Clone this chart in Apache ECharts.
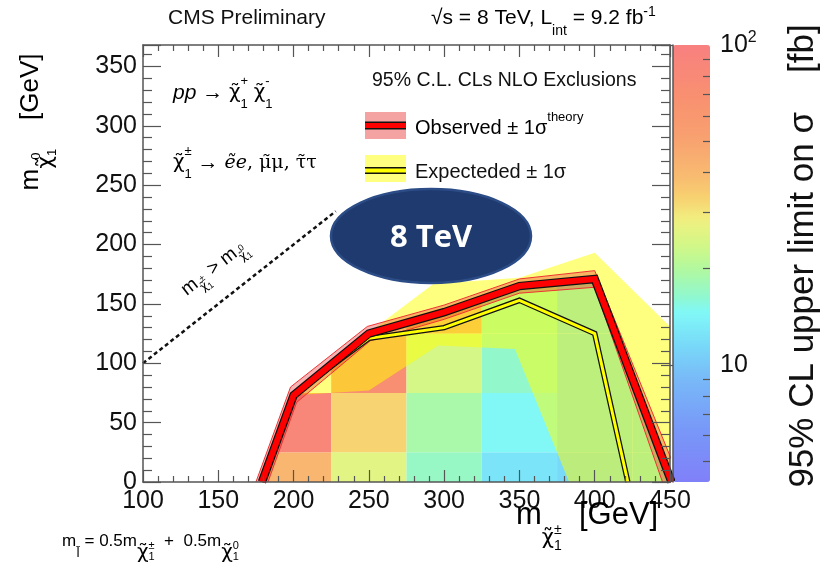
<!DOCTYPE html>
<html>
<head>
<meta charset="utf-8">
<script src="https://cdn.jsdelivr.net/npm/echarts@6/dist/echarts.min.js"></script>
<style>html,body{margin:0;padding:0;background:#fff;}#c{width:825px;height:568px;}</style>
</head>
<body>
<div id="c"></div>
<script>
// ---------------- data ----------------
const xTicks = [100, 150, 200, 250, 300, 350, 400, 450];
const yTicks = [0, 50, 100, 150, 200, 250, 300, 350];
const cbMajor = [10, 100];
const cbMinor = [5, 6, 7, 8, 9, 20, 30, 40, 50, 60, 70, 80, 90];
const cbMin = 4.3, cbMax = 100;

// grid cells (bin centres) and 95% CL upper limit [fb]
const cellX = [200, 200, 250, 250, 250, 300, 300, 300, 300, 350, 350, 350, 350, 400, 400, 400, 400, 450, 450, 450];
const cellY = [0, 50, 0, 50, 100, 0, 50, 100, 150, 0, 50, 100, 150, 0, 50, 100, 150, 0, 50, 100];
const cellLimit = [41, 85, 26, 33, 72, 17, 19, 24, 55, 12.5, 14.5, 16.5, 17, 11.5, 12, 12, 12, 12, 12, 12];

// observed contour and its +-1 sigma theory band
const obsX = [179, 200, 250, 300, 350, 400, 451];
const obsY = [0, 73, 125, 143, 165, 171, 0];
const obsUpX = [175, 198, 249, 300, 350, 400, 457];
const obsUpY = [0, 80, 131, 149, 171, 178, 0];
const obsDnX = [183, 202, 251, 300, 350, 400, 445];
const obsDnY = [0, 67, 119, 137, 159, 164, 0];
// expected contour and its +-1 sigma band
const expX = [179, 200, 250, 300, 350, 400, 422];
const expY = [0, 74, 121, 130, 153, 125, 0];
const expUpX = [200, 250, 293, 350, 400, 450, 450];
const expUpY = [75, 126, 167, 172, 193, 131, 0];
const expDnX = [200, 250, 296, 347, 383];
const expDnY = [73, 77, 115, 112, 0];
// kinematic boundary m(chi+-) = m(chi0)
const diagX = [100, 228];
const diagY = [100, 228];

// colour bar palette stops (fraction along bar, colour)
const cbStops = [[0,'#8080f8'],[0.12,'#7898f8'],[0.233,'#78b8f8'],[0.31,'#78d8f8'],[0.387,'#80f8f8'],[0.423,'#90f8d0'],[0.485,'#b0f8a0'],[0.538,'#d0f888'],[0.6,'#f0f080'],[0.652,'#f8d070'],[0.707,'#f8b870'],[0.789,'#f8a070'],[0.88,'#f89070'],[1,'#f88080']];

// ---------------- helpers ----------------
function hex2rgb(h){return [parseInt(h.substr(1,2),16),parseInt(h.substr(3,2),16),parseInt(h.substr(5,2),16)];}
function sampleStops(n){
  const out=[];
  for(let i=0;i<n;i++){
    const f=i/(n-1);
    let k=0; while(k<cbStops.length-2 && cbStops[k+1][0]<f) k++;
    const a=cbStops[k], b=cbStops[k+1];
    const t=(f-a[0])/(b[0]-a[0]);
    const ca=hex2rgb(a[1]), cb=hex2rgb(b[1]);
    out.push('rgb('+ca.map((v,j)=>Math.round(v+(cb[j]-v)*t)).join(',')+')');
  }
  return out;
}
const L = Math.log10;
const cellData = cellX.map((x,i)=>[x, cellY[i], L(cellLimit[i])]);
function pairs(xs, ys){return xs.map((x,i)=>[x, ys[i]]);}

function polySeries(upX, upY, dnX, dnY, style, z){
  const xs = upX.concat(dnX.slice().reverse());
  const ys = upY.concat(dnY.slice().reverse());
  return {
    type:'custom', coordinateSystem:'cartesian2d', xAxisIndex:0, yAxisIndex:0,
    data: pairs(xs, ys), z:z, silent:true, clip:true,
    renderItem: function(params, api){
      if(params.dataIndex!==0) return;
      const pts = xs.map((x,i)=>api.coord([x, ys[i]]));
      return {type:'polygon', shape:{points:pts}, style:style};
    }
  };
}
function lineSeries(xs, ys, color, width, z, type){
  return {type:'line', xAxisIndex:0, yAxisIndex:0, data:pairs(xs,ys), showSymbol:false, symbol:'none', z:z, silent:true,
    lineStyle:{color:color, width:width, type:type||'solid', join:'miter', cap:'butt'}, animation:false};
}

const F = 'Liberation Sans, Arial, Helvetica, sans-serif';
const G = 'DejaVu Sans, sans-serif';
const GS = 'DejaVu Serif, serif';
const axisCol = '#555';
const C = '#111';

// rich-text sub/superscript helpers: verticalAlign + box height set the offset
function sup(font, size, h, stack){ const o={fontFamily:font, fontSize:size, height:h, verticalAlign:'bottom', color:C}; if(stack) o.width=0; return o; }
function sub(font, size, h){ return {fontFamily:font, fontSize:size, height:h, verticalAlign:'bottom', color:C}; }

const chart = echarts.init(document.getElementById('c'), null, {renderer:'canvas'});

const xCommon = {
  type:'value', min:100, max:450, interval:50, gridIndex:0, z:10,
  axisLine:{show:true, onZero:false, lineStyle:{color:axisCol, width:1.5}},
  axisTick:{show:true, inside:true, length:12, lineStyle:{color:axisCol, width:1.2}},
  minorTick:{show:true, splitNumber:5, length:6, lineStyle:{color:axisCol, width:1.2}},
  splitLine:{show:false}
};
const yCommon = {
  type:'value', min:0, max:368, interval:50, gridIndex:0, z:10,
  axisLine:{show:true, onZero:false, lineStyle:{color:axisCol, width:1.5}},
  axisTick:{show:true, inside:true, length:18, lineStyle:{color:axisCol, width:1.2}},
  minorTick:{show:true, splitNumber:5, length:9, lineStyle:{color:axisCol, width:1.2}},
  splitLine:{show:false}
};

const option = {
  animation:false,
  backgroundColor:'#fff',
  grid:[
    {left:143, top:45, width:527, height:437},
    {left:673, top:45, width:37, height:437}
  ],
  xAxis:[
    Object.assign({}, xCommon, {position:'bottom',
      axisLabel:{show:true, customValues:xTicks, fontSize:25, fontFamily:F, color:C, margin:7}}),
    Object.assign({}, xCommon, {position:'top', axisLabel:{show:false}}),
    {type:'value', gridIndex:1, show:false, min:0, max:1}
  ],
  yAxis:[
    Object.assign({}, yCommon, {position:'left',
      axisLabel:{show:true, customValues:yTicks, fontSize:25, fontFamily:F, color:C, margin:6}}),
    Object.assign({}, yCommon, {position:'right', axisLabel:{show:false}}),
    {type:'value', gridIndex:1, position:'right', min:L(cbMin), max:L(cbMax), z:10,
      axisLine:{show:true, lineStyle:{color:axisCol, width:1.5}},
      axisTick:{show:true, inside:true, length:12, customValues:cbMajor.map(L), lineStyle:{color:axisCol, width:1.2}},
      axisLabel:{show:true, customValues:cbMajor.map(L), margin:10, fontFamily:F, fontSize:25, color:C,
        formatter:function(v){ return Math.abs(v-2)<1e-6 ? '{a|10}{s|2}' : '{a|10}'; },
        rich:{a:{fontFamily:F, fontSize:25, color:C, lineHeight:30}, s:{fontFamily:F, fontSize:16, color:C, verticalAlign:'top', lineHeight:18}}},
      splitLine:{show:false}},
    {type:'value', gridIndex:1, position:'right', min:L(cbMin), max:L(cbMax), z:10,
      axisLine:{show:false},
      axisTick:{show:true, inside:true, length:7, customValues:cbMinor.map(L), lineStyle:{color:axisCol, width:1.2}},
      axisLabel:{show:false}, splitLine:{show:false}}
  ],
  visualMap:[{
    type:'continuous', seriesIndex:0, dimension:2, min:L(cbMin), max:L(cbMax),
    calculable:false, realtime:false, hoverLink:false, text:null, show:true,
    orient:'vertical', left:673, top:45, itemWidth:37, itemHeight:437, padding:0,
    inRange:{color: sampleStops(60)}, textStyle:{color:'transparent'}
  }],
  series:[
    {
      type:'custom', coordinateSystem:'cartesian2d', xAxisIndex:0, yAxisIndex:0,
      data: cellData, z:1, silent:true, clip:true,
      renderItem:function(params, api){
        const x = api.value(0), y = api.value(1);
        const p1 = api.coord([x-25, y+25]);
        const p2 = api.coord([x+25, y-25]);
        const clip = obsX.map((xx,i)=>api.coord([xx, obsY[i]]));
        return {type:'rect', shape:{x:p1[0], y:p1[1], width:p2[0]-p1[0], height:p2[1]-p1[1]},
          style:{fill:api.visual('color')},
          clipPath:{type:'polygon', shape:{points:clip}}};
      }
    },
    polySeries(expUpX, expUpY, expDnX, expDnY, {fill:'rgba(255,255,0,0.5)'}, 2),
    polySeries(obsUpX, obsUpY, obsDnX, obsDnY, {fill:'rgba(235,40,40,0.35)'}, 3),
    lineSeries(obsUpX, obsUpY, '#e33', 1, 3),
    lineSeries(obsDnX, obsDnY, '#e33', 1, 3),
    lineSeries(expX, expY, C, 5.5, 4),
    lineSeries(expX, expY, '#ffff00', 3, 5),
    lineSeries(obsX, obsY, C, 8.5, 6),
    lineSeries(obsX, obsY, '#ff0000', 6, 7),
    lineSeries(diagX, diagY, C, 2.5, 8, [4,3])
  ],
  graphic:[
    {type:'text', z:100, x:168, y:18, style:{text:'CMS Preliminary', font:'21px '+F, fill:C, textVerticalAlign:'middle'}},
    {type:'text', z:100, x:431, y:18, style:{text:'{n|√s = 8 TeV, L}{b|int}{n| = 9.2 fb}{t|-1}', textVerticalAlign:'middle',
      rich:{n:{fontFamily:F, fontSize:21, lineHeight:40, color:C}, b:sub(F,14,14), t:{fontFamily:F, fontSize:14, height:28, verticalAlign:'top', color:C}}}},
    {type:'text', z:100, x:372, y:81, style:{text:'95% C.L. CLs NLO Exclusions', font:'19.5px '+F, fill:C, textVerticalAlign:'middle'}},
    // legend boxes
    {type:'rect', z:100, shape:{x:365, y:112, width:41, height:27}, style:{fill:'#f4a2a2'}},
    {type:'rect', z:100, shape:{x:365, y:121.5, width:41, height:8}, style:{fill:C}},
    {type:'rect', z:100, shape:{x:365, y:123, width:41, height:5}, style:{fill:'#ff0000'}},
    {type:'rect', z:100, shape:{x:365, y:155, width:41, height:27}, style:{fill:'#ffff80'}},
    {type:'rect', z:100, shape:{x:365, y:167, width:41, height:7}, style:{fill:C}},
    {type:'rect', z:100, shape:{x:365, y:168.5, width:41, height:4}, style:{fill:'#ffff00'}},
    {type:'text', z:100, x:415, y:128, style:{text:'{n|Observed ± 1σ}{t|theory}', textVerticalAlign:'middle',
      rich:{n:{fontFamily:F, fontSize:20, lineHeight:34, color:C}, t:{fontFamily:F, fontSize:13, verticalAlign:'top', color:C}}}},
    {type:'text', z:100, x:415, y:172, style:{text:'Expecteded ± 1σ', font:'20px '+F, fill:C, textVerticalAlign:'middle'}},
    // process labels
    {type:'text', z:100, x:173, y:93, style:{text:'{i|pp}{n| → }{g|χ̃}{t|+}{b|1}{n| }{g|χ̃}{t|-}{b|1}', textVerticalAlign:'middle',
      rich:{i:{fontFamily:F, fontStyle:'italic', fontSize:21, lineHeight:36, color:C}, n:{fontFamily:F, fontSize:21, lineHeight:36, color:C},
        g:{fontFamily:G, fontSize:20, lineHeight:36, color:C},
        t:{fontFamily:F, fontSize:13, verticalAlign:'top', color:C, width:0}, b:{fontFamily:F, fontSize:13, verticalAlign:'bottom', color:C}}}},
    {type:'text', z:100, x:173, y:163, style:{text:'{g|χ̃}{t|±}{b|1}{n| → }{si|ẽe}{s|, μ̃μ, τ̃τ}', textVerticalAlign:'middle',
      rich:{n:{fontFamily:F, fontSize:21, lineHeight:36, color:C}, g:{fontFamily:G, fontSize:20, lineHeight:36, color:C},
        s:{fontFamily:GS, fontSize:19, lineHeight:36, color:C}, si:{fontFamily:GS, fontStyle:'italic', fontSize:19, lineHeight:36, color:C},
        t:{fontFamily:F, fontSize:13, verticalAlign:'top', color:C, width:0}, b:{fontFamily:F, fontSize:13, verticalAlign:'bottom', color:C}}}},
    {type:'text', z:100, x:214, y:268, rotation:38*Math.PI/180, style:{text:'{n|m}{g|χ̃}{t|±}{b|1}{n| > m}{g|χ̃}{t|0}{b|1}', textAlign:'center', textVerticalAlign:'middle',
      rich:{n:{fontFamily:F, fontSize:19, lineHeight:34, color:C}, g:sub(G,12,16), t:sup(F,9,32,true), b:sub(F,9,10)}}},
    // axis titles
    {type:'text', z:100, x:31, y:122, rotation:Math.PI/2, style:{text:'{n|m}{g|χ̃}{t|0}{b|1}{n|    [GeV]}', textAlign:'center', textVerticalAlign:'middle',
      rich:{n:{fontFamily:F, fontSize:26, lineHeight:54, color:C}, g:sub(G,22,24), t:sup(F,13,44,true), b:sub(F,13,12)}}},
    {type:'text', z:100, x:516, y:515, style:{text:'{n|m}{g|χ̃}{t|±}{b|1}{n|  [GeV]}', textVerticalAlign:'middle',
      rich:{n:{fontFamily:F, fontSize:31, lineHeight:76, color:C}, g:sub(G,21,28), t:sup(F,14,46,true), b:sub(F,14,14)}}},
    {type:'text', z:100, x:62, y:541, style:{text:'{n|m}{l|l̃}{n| = 0.5m}{g|χ̃}{t|±}{b|1}{n|  +  0.5m}{g|χ̃}{t|0}{b|1}', textVerticalAlign:'middle',
      rich:{n:{fontFamily:F, fontSize:17, lineHeight:36, color:C}, l:sub(G,13,10), g:sub(G,20,12), t:sup(F,11,27,true), b:sub(F,11,4)}}},
    {type:'text', z:100, x:803, y:256, rotation:Math.PI/2, style:{text:'95% CL upper limit on σ    [fb]', font:'35px '+F, fill:C, textAlign:'center', textVerticalAlign:'middle'}},
    // 8 TeV badge
    {type:'ellipse', z:120, shape:{cx:431, cy:236, rx:100, ry:47}, style:{fill:'#1f3a6e', stroke:'#2b4c86', lineWidth:2.5}},
    {type:'text', z:121, x:431, y:238, style:{text:'8 TeV', font:'bold 31px Open Sans, sans-serif', fill:'#fff', textAlign:'center', textVerticalAlign:'middle'}}
  ]
};
chart.setOption(option);
</script>
</body>
</html>
